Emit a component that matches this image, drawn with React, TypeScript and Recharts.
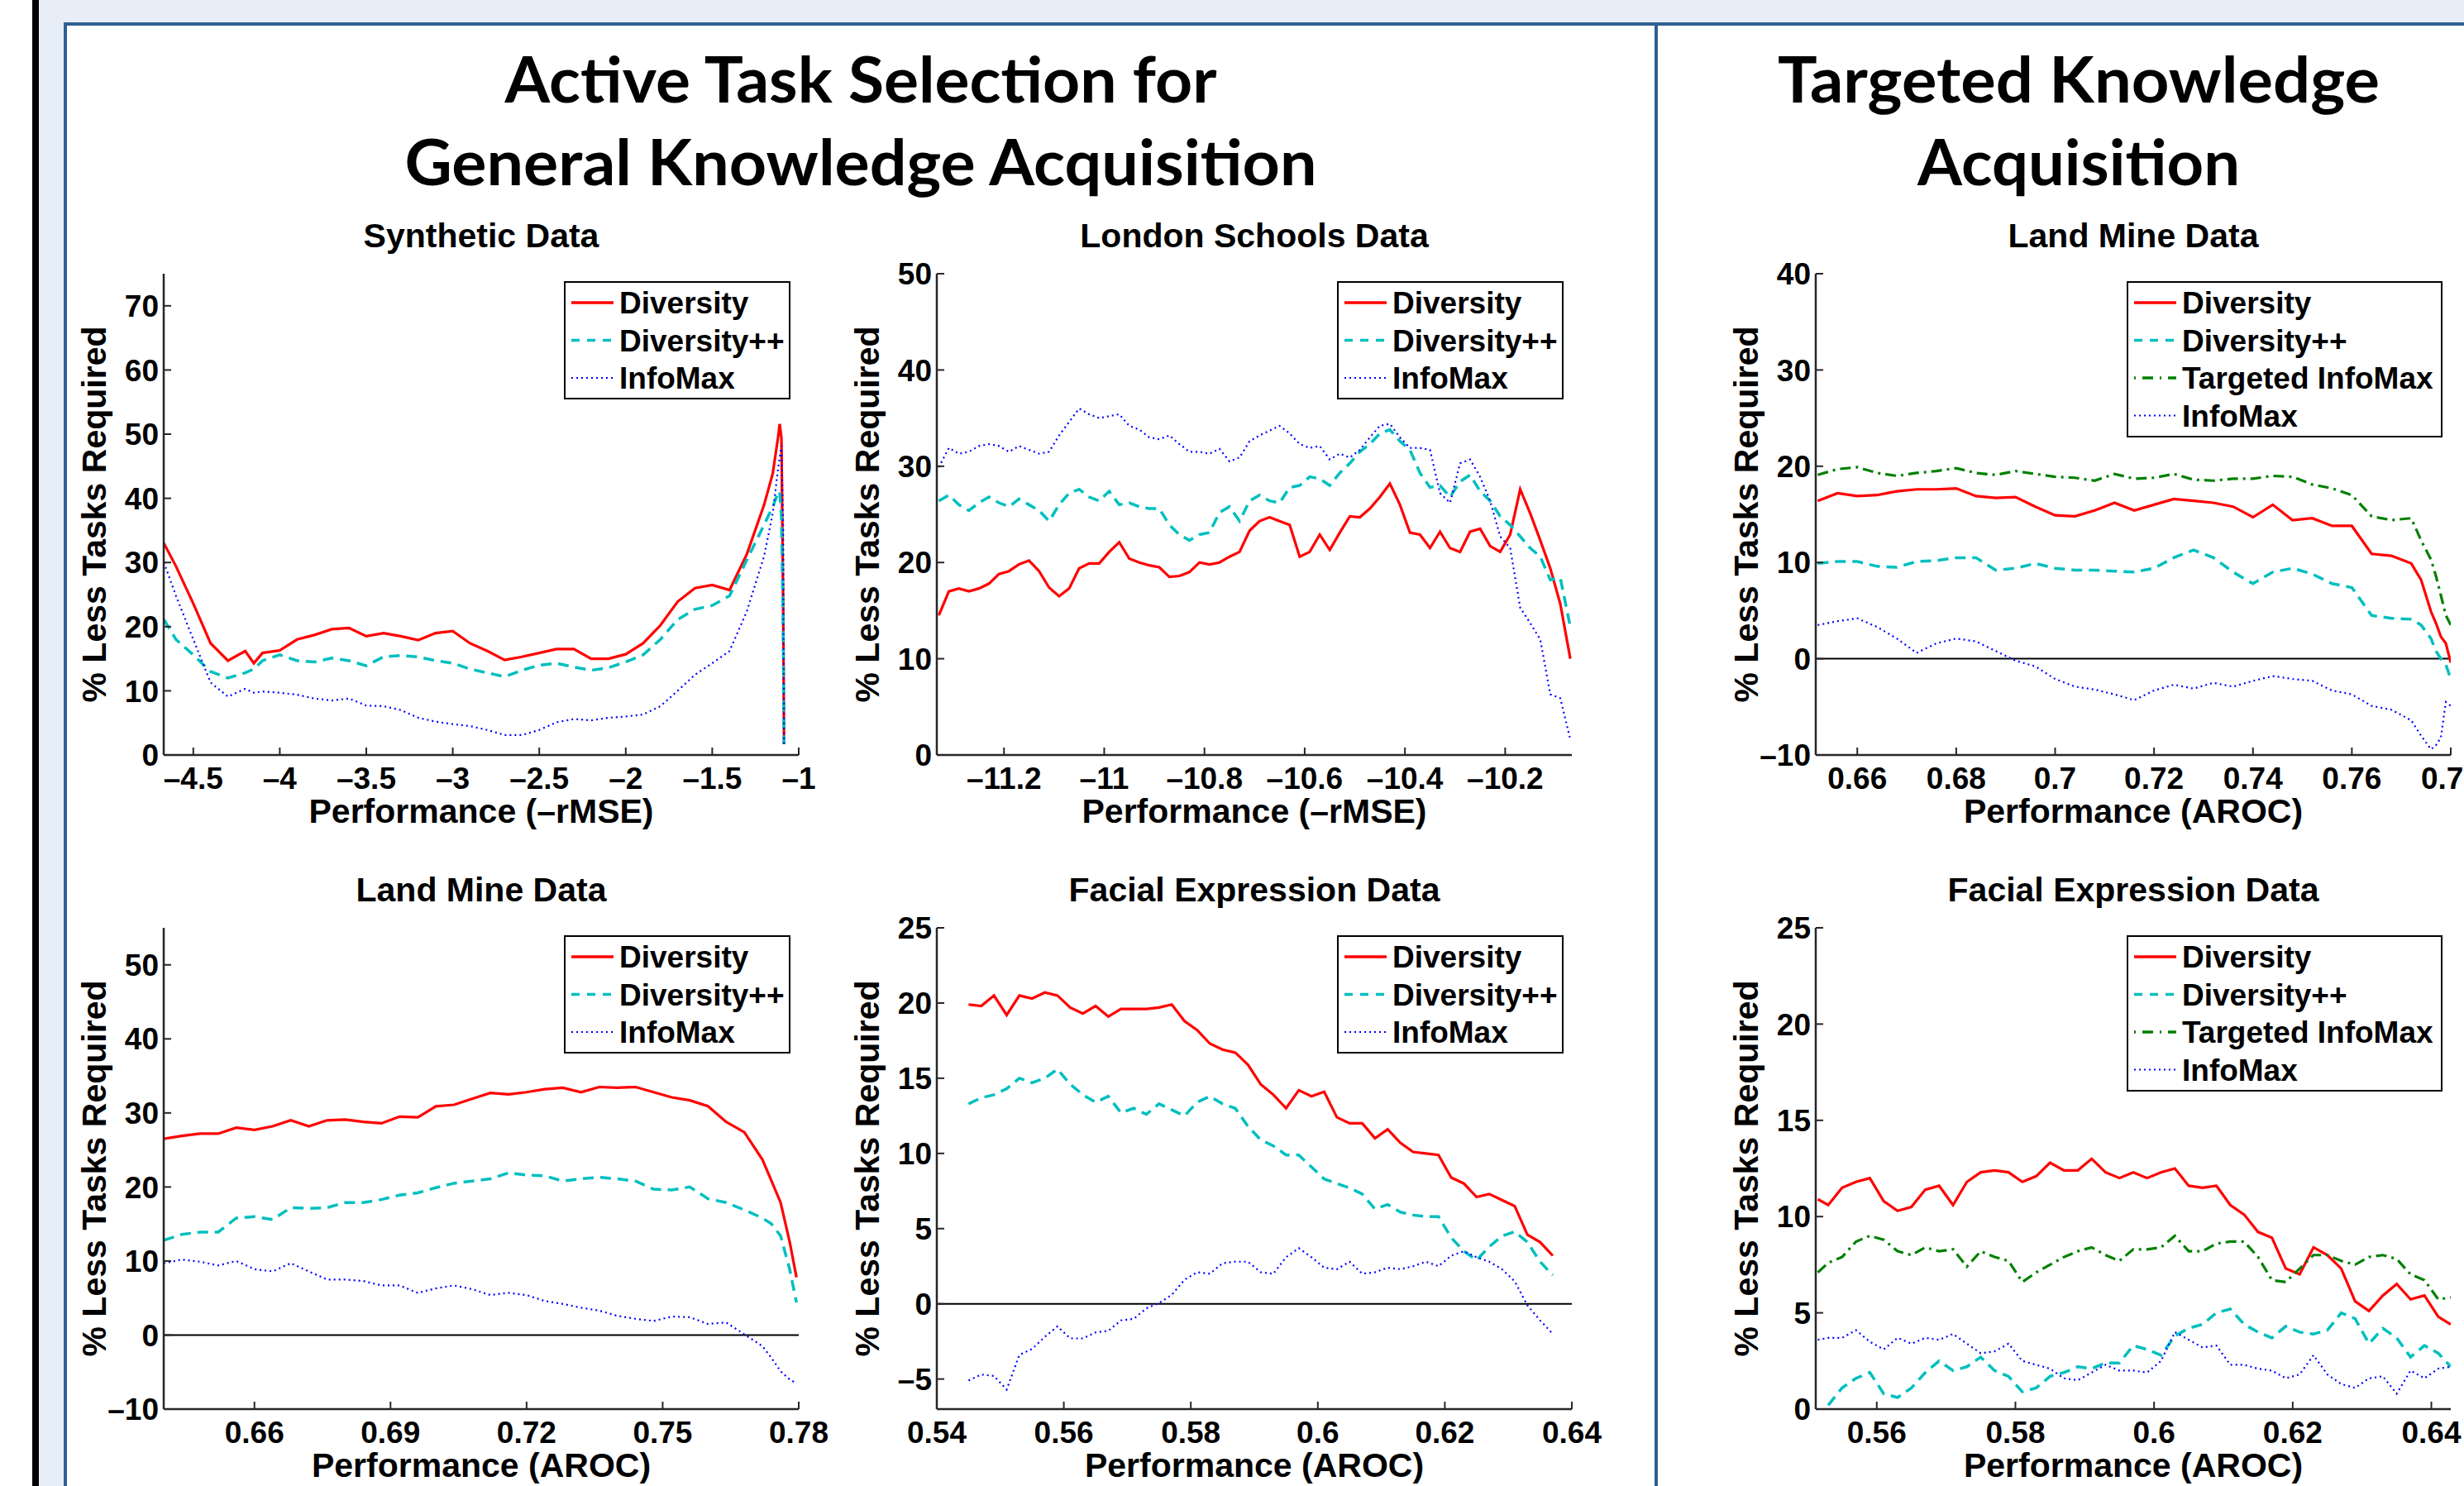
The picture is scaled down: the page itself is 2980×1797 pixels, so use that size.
import React from 'react';
import { LineChart, Line, XAxis, YAxis, ReferenceLine, Legend } from 'recharts';

// ---------------- DATA ----------------
// Synthetic Data (general)
const synX = [-4.67, -4.6, -4.5, -4.4, -4.3, -4.2, -4.15, -4.1, -4.0, -3.9, -3.8, -3.7, -3.6, -3.5, -3.4, -3.3, -3.2, -3.1, -3.0, -2.9, -2.8, -2.7, -2.6, -2.5, -2.4, -2.3, -2.2, -2.1, -2.0, -1.9, -1.8, -1.7, -1.6, -1.5, -1.4, -1.3, -1.2, -1.15, -1.12, -1.11, -1.10, -1.09, -1.085];
const synDiversity = [33.0, 29.4, 23.6, 17.4, 14.7, 16.2, 14.3, 15.9, 16.3, 18.0, 18.7, 19.6, 19.8, 18.5, 19.0, 18.5, 17.9, 19.0, 19.3, 17.4, 16.2, 14.8, 15.3, 15.9, 16.5, 16.5, 15.0, 15.0, 15.7, 17.4, 20.2, 23.9, 26.0, 26.5, 25.7, 31.3, 39.0, 43.9, 49.4, 51.6, 49.4, 23.6, 1.7];
const synDiversityPP = [21.1, 18.0, 15.6, 13.0, 12.0, 12.8, 13.4, 14.7, 15.6, 14.7, 14.5, 15.1, 14.7, 13.9, 15.3, 15.5, 15.3, 14.7, 14.3, 13.4, 12.8, 12.2, 13.2, 14.0, 14.3, 13.7, 13.2, 13.6, 14.5, 15.6, 18.0, 21.1, 22.7, 23.3, 24.8, 30.4, 35.9, 38.7, 40.8, 41.1, 37.1, 20.5, 1.7];
const synInfoMax = [30.0, 24.8, 18.0, 11.3, 9.1, 10.3, 9.7, 9.9, 9.7, 9.4, 8.8, 8.5, 8.8, 7.7, 7.6, 7.0, 5.8, 5.2, 4.8, 4.5, 3.9, 3.1, 3.1, 3.9, 5.1, 5.6, 5.4, 5.8, 6.0, 6.3, 7.6, 10.0, 12.5, 14.3, 16.2, 22.4, 31.0, 37.7, 44.5, 46.4, 48.2, 35.9, 1.7];
const synXTicks = [-4.5, -4, -3.5, -3, -2.5, -2, -1.5, -1];
const synYTicks = [0, 10, 20, 30, 40, 50, 60, 70];

// London Schools Data (general)
const lonX = [-11.33, -11.31, -11.29, -11.27, -11.25, -11.23, -11.21, -11.19, -11.17, -11.15, -11.13, -11.11, -11.09, -11.07, -11.05, -11.03, -11.01, -10.99, -10.97, -10.95, -10.93, -10.91, -10.89, -10.87, -10.85, -10.83, -10.81, -10.79, -10.77, -10.75, -10.73, -10.71, -10.69, -10.67, -10.65, -10.63, -10.61, -10.59, -10.57, -10.55, -10.53, -10.51, -10.49, -10.47, -10.45, -10.43, -10.41, -10.39, -10.37, -10.35, -10.33, -10.31, -10.29, -10.27, -10.25, -10.23, -10.21, -10.19, -10.17, -10.15, -10.13, -10.11, -10.09, -10.07];
const lonDiversity = [14.5, 17.0, 17.3, 17.0, 17.3, 17.8, 18.8, 19.1, 19.8, 20.2, 19.1, 17.4, 16.5, 17.3, 19.4, 19.9, 19.9, 21.1, 22.1, 20.4, 20.0, 19.7, 19.5, 18.5, 18.6, 19.0, 20.0, 19.8, 20.0, 20.6, 21.1, 23.3, 24.3, 24.7, 24.3, 23.9, 20.6, 21.1, 22.9, 21.3, 23.1, 24.8, 24.7, 25.6, 26.8, 28.2, 26.0, 23.1, 22.9, 21.5, 23.2, 21.5, 21.1, 23.2, 23.5, 21.7, 21.1, 22.9, 27.6, 25.1, 22.3, 19.4, 15.7, 10.0];
const lonDiversityPP = [26.4, 27.0, 26.0, 25.4, 26.2, 26.8, 26.2, 25.8, 26.6, 26.0, 25.4, 24.3, 26.0, 27.2, 27.6, 26.8, 26.4, 27.4, 26.0, 26.2, 25.8, 25.6, 25.6, 23.9, 22.9, 22.3, 22.9, 23.1, 25.2, 25.8, 24.3, 26.4, 27.0, 26.4, 26.2, 27.8, 28.0, 28.9, 28.7, 28.0, 29.3, 30.3, 31.5, 32.3, 33.4, 33.8, 32.6, 31.7, 29.3, 27.8, 28.0, 26.8, 28.4, 29.1, 27.4, 26.4, 24.8, 23.9, 22.7, 21.5, 20.6, 18.2, 18.4, 13.3];
const lonInfoMax = [29.9, 31.9, 31.3, 31.5, 32.1, 32.3, 32.1, 31.5, 32.1, 31.7, 31.3, 31.5, 33.2, 34.6, 36.0, 35.4, 35.0, 35.2, 35.4, 34.2, 33.8, 33.0, 32.8, 33.2, 32.3, 31.5, 31.5, 31.3, 31.8, 30.5, 30.9, 32.6, 33.2, 33.7, 34.2, 33.4, 32.3, 31.9, 32.1, 30.7, 31.3, 30.9, 31.7, 33.0, 34.2, 34.4, 33.0, 31.9, 31.9, 31.7, 27.2, 26.2, 30.3, 30.7, 28.9, 26.4, 22.7, 21.5, 15.3, 13.7, 12.0, 6.3, 5.9, 1.6];
const lonXTicks = [-11.2, -11, -10.8, -10.6, -10.4, -10.2];
const lonYTicks = [0, 10, 20, 30, 40, 50];

// Land Mine Data (targeted)
const tlmX = [0.652, 0.656, 0.660, 0.664, 0.668, 0.672, 0.676, 0.680, 0.684, 0.688, 0.692, 0.696, 0.700, 0.704, 0.708, 0.712, 0.716, 0.720, 0.724, 0.728, 0.732, 0.736, 0.740, 0.744, 0.748, 0.752, 0.756, 0.760, 0.764, 0.768, 0.772, 0.774, 0.776, 0.777, 0.778, 0.779, 0.780];
const tlmDiversity = [16.4, 17.2, 16.9, 17.0, 17.4, 17.6, 17.6, 17.7, 16.9, 16.7, 16.8, 15.8, 14.9, 14.8, 15.4, 16.2, 15.4, 16.0, 16.6, 16.4, 16.2, 15.8, 14.7, 16.0, 14.4, 14.6, 13.8, 13.8, 10.9, 10.7, 9.9, 8.2, 4.9, 3.7, 2.3, 1.6, -0.4];
const tlmDiversityPP = [9.9, 10.1, 10.1, 9.6, 9.5, 10.1, 10.2, 10.5, 10.5, 9.2, 9.4, 9.9, 9.4, 9.2, 9.2, 9.1, 9.0, 9.4, 10.5, 11.3, 10.5, 9.0, 7.8, 9.0, 9.4, 8.8, 7.8, 7.4, 4.5, 4.2, 4.1, 3.5, 2.1, 0.8, 0.0, -0.6, -2.1];
const tlmTargeted = [19.1, 19.7, 19.9, 19.3, 19.0, 19.3, 19.5, 19.8, 19.3, 19.1, 19.5, 19.2, 18.9, 18.8, 18.5, 19.2, 18.7, 18.8, 19.2, 18.6, 18.5, 18.7, 18.7, 19.0, 18.9, 18.1, 17.7, 17.0, 14.8, 14.4, 14.6, 12.3, 10.3, 8.6, 6.6, 4.5, 3.5];
const tlmInfoMax = [3.5, 3.9, 4.2, 3.3, 2.1, 0.6, 1.6, 2.1, 1.8, 0.8, -0.2, -0.8, -2.1, -2.9, -3.2, -3.7, -4.3, -3.3, -2.7, -3.1, -2.5, -2.9, -2.3, -1.8, -2.1, -2.3, -3.3, -3.7, -4.9, -5.3, -6.4, -8.0, -9.4, -9.0, -8.2, -4.5, -4.9];
const tlmXTicks = [0.66, 0.68, 0.7, 0.72, 0.74, 0.76, 0.78];
const tlmYTicks = [-10, 0, 10, 20, 30, 40];

// Land Mine Data (general)
const glmX = [0.640, 0.644, 0.648, 0.652, 0.656, 0.660, 0.664, 0.668, 0.672, 0.676, 0.680, 0.684, 0.688, 0.692, 0.696, 0.700, 0.704, 0.708, 0.712, 0.716, 0.720, 0.724, 0.728, 0.732, 0.736, 0.740, 0.744, 0.748, 0.752, 0.756, 0.760, 0.764, 0.768, 0.772, 0.774, 0.776, 0.778, 0.7795];
const glmDiversity = [26.5, 26.9, 27.2, 27.2, 28.0, 27.7, 28.2, 29.0, 28.2, 29.0, 29.1, 28.8, 28.6, 29.5, 29.4, 30.9, 31.1, 31.9, 32.7, 32.5, 32.8, 33.2, 33.4, 32.8, 33.5, 33.4, 33.5, 32.8, 32.1, 31.7, 30.9, 28.8, 27.4, 23.7, 20.8, 17.9, 12.6, 7.8];
const glmDiversityPP = [12.8, 13.6, 13.9, 13.9, 15.8, 16.0, 15.6, 17.2, 17.1, 17.2, 17.9, 17.9, 18.3, 18.9, 19.2, 19.9, 20.5, 20.8, 21.1, 21.9, 21.6, 21.5, 20.8, 21.1, 21.3, 21.1, 20.8, 19.7, 19.6, 20.0, 18.4, 17.9, 16.9, 15.8, 15.0, 13.4, 8.9, 4.4];
const glmInfoMax = [9.7, 10.2, 9.9, 9.4, 10.0, 8.9, 8.6, 9.7, 8.6, 7.5, 7.5, 7.3, 6.7, 6.7, 5.7, 6.3, 6.7, 6.2, 5.4, 5.7, 5.4, 4.6, 4.2, 3.7, 3.3, 2.6, 2.2, 1.9, 2.5, 2.4, 1.5, 1.7, 0.1, -1.5, -3.1, -4.9, -6.0, -6.5];
const glmXTicks = [0.66, 0.69, 0.72, 0.75, 0.78];
const glmYTicks = [-10, 0, 10, 20, 30, 40, 50];

// Facial Expression Data (general)
const gfeX = [0.545, 0.547, 0.549, 0.551, 0.553, 0.555, 0.557, 0.559, 0.561, 0.563, 0.565, 0.567, 0.569, 0.571, 0.573, 0.575, 0.577, 0.579, 0.581, 0.583, 0.585, 0.587, 0.589, 0.591, 0.593, 0.595, 0.597, 0.599, 0.601, 0.603, 0.605, 0.607, 0.609, 0.611, 0.613, 0.615, 0.617, 0.619, 0.621, 0.623, 0.625, 0.627, 0.629, 0.631, 0.633, 0.635, 0.637];
const gfeDiversity = [19.9, 19.8, 20.5, 19.2, 20.5, 20.3, 20.7, 20.5, 19.7, 19.3, 19.8, 19.1, 19.6, 19.6, 19.6, 19.7, 19.9, 18.8, 18.2, 17.3, 16.9, 16.7, 15.9, 14.6, 13.9, 13.0, 14.2, 13.8, 14.1, 12.4, 12.0, 12.0, 11.0, 11.6, 10.7, 10.1, 10.0, 9.9, 8.4, 8.0, 7.1, 7.3, 6.9, 6.5, 4.6, 4.1, 3.2];
const gfeDiversityPP = [13.3, 13.7, 13.9, 14.3, 15.0, 14.7, 15.0, 15.6, 14.6, 13.9, 13.4, 13.8, 12.7, 13.0, 12.6, 13.3, 12.9, 12.5, 13.4, 13.8, 13.3, 13.0, 11.8, 10.9, 10.5, 9.9, 9.9, 9.1, 8.3, 8.0, 7.7, 7.3, 6.3, 6.6, 6.1, 5.9, 5.8, 5.8, 4.4, 3.5, 2.9, 3.8, 4.5, 4.8, 4.1, 2.8, 1.9];
const gfeInfoMax = [-5.1, -4.7, -4.8, -5.7, -3.4, -3.0, -2.2, -1.5, -2.3, -2.3, -1.9, -1.8, -1.1, -1.0, -0.3, 0.05, 0.6, 1.6, 2.1, 2.0, 2.7, 2.8, 2.8, 2.1, 2.0, 3.1, 3.7, 3.1, 2.4, 2.3, 2.8, 2.0, 2.1, 2.4, 2.3, 2.5, 2.8, 2.5, 3.2, 3.5, 3.1, 2.8, 2.3, 1.5, -0.1, -1.1, -2.0];
const gfeXTicks = [0.54, 0.56, 0.58, 0.6, 0.62, 0.64];
const gfeYTicks = [-5, 0, 5, 10, 15, 20, 25];

// Facial Expression Data (targeted)
const tfeX = [0.5515, 0.553, 0.555, 0.557, 0.559, 0.561, 0.563, 0.565, 0.567, 0.569, 0.571, 0.573, 0.575, 0.577, 0.579, 0.581, 0.583, 0.585, 0.587, 0.589, 0.591, 0.593, 0.595, 0.597, 0.599, 0.601, 0.603, 0.605, 0.607, 0.609, 0.611, 0.613, 0.615, 0.617, 0.619, 0.621, 0.623, 0.625, 0.627, 0.629, 0.631, 0.633, 0.635, 0.637, 0.639, 0.641, 0.6428];
const tfeDiversity = [10.9, 10.6, 11.5, 11.8, 12.0, 10.8, 10.3, 10.5, 11.4, 11.6, 10.6, 11.8, 12.3, 12.4, 12.3, 11.8, 12.1, 12.8, 12.4, 12.4, 13.0, 12.3, 12.0, 12.3, 12.0, 12.3, 12.5, 11.6, 11.5, 11.6, 10.6, 10.1, 9.2, 8.9, 7.3, 7.0, 8.4, 8.0, 7.3, 5.6, 5.1, 5.9, 6.5, 5.7, 5.9, 4.8, 4.4];
const tfeDiversityPP = [null, 0.2, 1.1, 1.6, 1.9, 0.8, 0.6, 1.1, 1.9, 2.5, 2.0, 2.2, 2.7, 2.0, 1.7, 0.9, 1.1, 1.7, 1.9, 2.2, 2.1, 2.4, 2.4, 3.3, 3.1, 2.8, 3.8, 4.2, 4.4, 5.0, 5.2, 4.4, 4.0, 3.7, 4.3, 4.0, 3.9, 4.1, 5.0, 4.7, 3.4, 4.2, 3.7, 2.7, 3.3, 2.9, 2.2];
const tfeTargeted = [7.1, 7.6, 7.9, 8.7, 9.0, 8.8, 8.2, 8.0, 8.4, 8.2, 8.3, 7.4, 8.2, 7.9, 7.7, 6.6, 7.1, 7.5, 7.9, 8.2, 8.4, 8.0, 7.7, 8.3, 8.3, 8.4, 9.0, 8.2, 8.2, 8.6, 8.7, 8.7, 7.9, 6.7, 6.6, 7.3, 8.0, 8.0, 7.7, 7.5, 7.9, 8.0, 7.8, 7.0, 6.7, 5.7, 5.8];
const tfeInfoMax = [3.6, 3.7, 3.7, 4.1, 3.5, 3.1, 3.7, 3.4, 3.7, 3.6, 3.9, 3.4, 2.9, 3.0, 3.4, 2.5, 2.3, 2.1, 1.6, 1.5, 1.9, 2.3, 2.0, 2.0, 1.9, 2.5, 4.0, 3.6, 3.2, 3.3, 2.3, 2.3, 2.1, 2.0, 1.6, 1.8, 2.8, 1.8, 1.3, 1.1, 1.6, 1.7, 0.8, 2.0, 1.6, 2.1, 2.2];
const tfeXTicks = [0.56, 0.58, 0.6, 0.62, 0.64];
const tfeYTicks = [0, 5, 10, 15, 20, 25];

// ---------------- STYLE ----------------
const FONT = '"Liberation Sans", Arial, Helvetica, sans-serif';
const TITLE_FONT = 'Lato, "Open Sans", sans-serif';
type Key = 'div' | 'dpp' | 'tim' | 'info';
const STYLES: Record<Key, { name: string; color: string; width: number; dash?: string; lWidth: number; lDash?: string }> = {
  div: { name: 'Diversity', color: '#FF0000', width: 3.2, lWidth: 3.5 },
  dpp: { name: 'Diversity++', color: '#00BFBF', width: 3.5, dash: '13 8', lWidth: 3.5, lDash: '10 9' },
  tim: { name: 'Targeted InfoMax', color: '#008000', width: 3.2, dash: '13 6 3 6', lWidth: 3.5, lDash: '2 8 13 8' },
  info: { name: 'InfoMax', color: '#0000FF', width: 2.2, dash: '2 4', lWidth: 2, lDash: '2 4' },
};

function zipRows(x: number[], cols: Partial<Record<Key, (number | null)[]>>) {
  return x.map((xv, i) => {
    const r: Record<string, number | null> = { x: xv };
    (Object.keys(cols) as Key[]).forEach((k) => {
      r[k] = (cols[k] as (number | null)[])[i];
    });
    return r;
  });
}

type Panel = {
  id: string; title: string; xLabel: string; boxLeft: number; boxTop: number;
  xDomain: [number, number]; xTicks: number[]; yDomain: [number, number]; yTicks: number[];
  zero: boolean; keys: Key[]; rows: Record<string, number | null>[];
};

const PANELS: Panel[] = [
  { id: 'syn', title: 'Synthetic Data', xLabel: 'Performance (\u2013rMSE)', boxLeft: 198, boxTop: 331, xDomain: [-4.671, -1], xTicks: synXTicks, yDomain: [0, 75], yTicks: synYTicks, zero: false, keys: ['div', 'dpp', 'info'], rows: zipRows(synX, { div: synDiversity, dpp: synDiversityPP, info: synInfoMax }) },
  { id: 'lon', title: 'London Schools Data', xLabel: 'Performance (\u2013rMSE)', boxLeft: 1133, boxTop: 331, xDomain: [-11.334, -10.067], xTicks: lonXTicks, yDomain: [0, 50], yTicks: lonYTicks, zero: false, keys: ['div', 'dpp', 'info'], rows: zipRows(lonX, { div: lonDiversity, dpp: lonDiversityPP, info: lonInfoMax }) },
  { id: 'tlm', title: 'Land Mine Data', xLabel: 'Performance (AROC)', boxLeft: 2196, boxTop: 331, xDomain: [0.6516, 0.78], xTicks: tlmXTicks, yDomain: [-10, 40], yTicks: tlmYTicks, zero: true, keys: ['div', 'dpp', 'tim', 'info'], rows: zipRows(tlmX, { div: tlmDiversity, dpp: tlmDiversityPP, tim: tlmTargeted, info: tlmInfoMax }) },
  { id: 'glm', title: 'Land Mine Data', xLabel: 'Performance (AROC)', boxLeft: 198, boxTop: 1122, xDomain: [0.64, 0.78], xTicks: glmXTicks, yDomain: [-10, 55], yTicks: glmYTicks, zero: true, keys: ['div', 'dpp', 'info'], rows: zipRows(glmX, { div: glmDiversity, dpp: glmDiversityPP, info: glmInfoMax }) },
  { id: 'gfe', title: 'Facial Expression Data', xLabel: 'Performance (AROC)', boxLeft: 1133, boxTop: 1122, xDomain: [0.54, 0.64], xTicks: gfeXTicks, yDomain: [-7, 25], yTicks: gfeYTicks, zero: true, keys: ['div', 'dpp', 'info'], rows: zipRows(gfeX, { div: gfeDiversity, dpp: gfeDiversityPP, info: gfeInfoMax }) },
  { id: 'tfe', title: 'Facial Expression Data', xLabel: 'Performance (AROC)', boxLeft: 2196, boxTop: 1122, xDomain: [0.5512, 0.6428], xTicks: tfeXTicks, yDomain: [0, 25], yTicks: tfeYTicks, zero: false, keys: ['div', 'dpp', 'tim', 'info'], rows: zipRows(tfeX, { div: tfeDiversity, dpp: tfeDiversityPP, tim: tfeTargeted, info: tfeInfoMax }) },
];

const BOX_W = 768;
const BOX_H = 582;
const YAW = 110;
const ML = 130;
const MT = 20;
const MR = 50;
const XAH = 70;
const MB = 10;
const AX = '#262626';

const fmt = (v: number) => (v < 0 ? '\u2013' + String(Math.abs(v)) : String(v));

function LegendBox({ keys }: { keys: Key[] }) {
  const w = keys.length === 4 ? 382 : 274;
  const h = keys.length === 4 ? 189 : 143;
  return (
    <svg width={w} height={h} style={{ display: 'block' }}>
      <rect x={1} y={1} width={w - 2} height={h - 2} fill="#fff" stroke="#000" strokeWidth={2} />
      {keys.map((k, i) => {
        const s = STYLES[k];
        const cy = 26 + 45.5 * i;
        return (
          <g key={k}>
            <line x1={9} x2={60} y1={cy} y2={cy} stroke={s.color} strokeWidth={s.lWidth} strokeDasharray={s.lDash} />
            <text x={67} y={cy} dy="0.36em" fontFamily={FONT} fontWeight={700} fontSize={37} fill="#000">{s.name}</text>
          </g>
        );
      })}
    </svg>
  );
}

function Plot({ p }: { p: Panel }) {
  const W = ML + BOX_W + MR;
  const H = MT + BOX_H + XAH + MB;
  const lw = p.keys.length === 4 ? 382 : 274;
  const lh = p.keys.length === 4 ? 189 : 143;
  const tickStyle = { fill: '#000', fontSize: 37, fontWeight: 700, fontFamily: FONT };
  return (
    <div style={{ position: 'absolute', left: p.boxLeft - ML, top: p.boxTop - MT, width: W, height: H }}>
      <LineChart width={W} height={H} data={p.rows} margin={{ top: MT, right: MR, bottom: MB, left: ML - YAW }}>
        <XAxis xAxisId="b" dataKey="x" type="number" domain={p.xDomain} ticks={p.xTicks} allowDataOverflow interval={0}
          orientation="bottom" height={XAH} tickSize={-9} tickMargin={24} tick={tickStyle} tickFormatter={fmt}
          axisLine={{ stroke: AX, strokeWidth: 2.5 }} tickLine={{ stroke: AX, strokeWidth: 2 }} />
        <XAxis xAxisId="t" dataKey="x" type="number" domain={p.xDomain} ticks={p.xTicks} allowDataOverflow interval={0}
          orientation="top" height={0} tickSize={-9} tick={false}
          axisLine={{ stroke: AX, strokeWidth: 2.5 }} tickLine={{ stroke: AX, strokeWidth: 2 }} />
        <YAxis yAxisId="l" type="number" domain={p.yDomain} ticks={p.yTicks} allowDataOverflow interval={0}
          orientation="left" width={YAW} tickSize={-9} tickMargin={15} tick={tickStyle} tickFormatter={fmt}
          axisLine={{ stroke: AX, strokeWidth: 2.5 }} tickLine={{ stroke: AX, strokeWidth: 2 }} />
        <YAxis yAxisId="r" type="number" domain={p.yDomain} ticks={p.yTicks} allowDataOverflow interval={0}
          orientation="right" width={0} tickSize={-9} tick={false}
          axisLine={{ stroke: AX, strokeWidth: 2.5 }} tickLine={{ stroke: AX, strokeWidth: 2 }} />
        {p.zero && <ReferenceLine xAxisId="b" yAxisId="l" y={0} stroke="#000" strokeWidth={2} />}
        {p.keys.map((k) => (
          <Line key={k} xAxisId="b" yAxisId="l" type="linear" dataKey={k} name={STYLES[k].name}
            stroke={STYLES[k].color} strokeWidth={STYLES[k].width} strokeDasharray={STYLES[k].dash}
            dot={false} activeDot={false} connectNulls={false} isAnimationActive={false} />
        ))}
        <Legend layout="vertical" align="center" verticalAlign="middle"
          wrapperStyle={{ left: ML + BOX_W - 10 - lw, top: MT + 9, width: lw, height: lh }}
          content={() => <LegendBox keys={p.keys} />} />
      </LineChart>
    </div>
  );
}

export default function App() {
  const bg = '#E8EEF7';
  const border = '#2F5F93';
  return (
    <div style={{ position: 'absolute', left: 0, top: 0, width: 2980, height: 1797, overflow: 'hidden', background: '#fff' }}>
      <div style={{ position: 'absolute', left: 47, top: 0, width: 2933, height: 27, background: bg }} />
      <div style={{ position: 'absolute', left: 47, top: 0, width: 30, height: 1797, background: bg }} />
      <div style={{ position: 'absolute', left: 39, top: 0, width: 8, height: 1797, background: '#000' }} />
      <div style={{ position: 'absolute', left: 77, top: 27, width: 2903, height: 4, background: border }} />
      <div style={{ position: 'absolute', left: 77, top: 27, width: 4, height: 1770, background: border }} />
      <div style={{ position: 'absolute', left: 2001, top: 27, width: 4, height: 1770, background: border }} />
      {PANELS.map((p) => (
        <Plot key={p.id} p={p} />
      ))}
      <svg width={2980} height={1797} style={{ position: 'absolute', left: 0, top: 0, pointerEvents: 'none' }}>
        <g fontFamily={TITLE_FONT} fontWeight={700} fontSize={76} fill="#000" textAnchor="middle">
          <text x={1041} y={124} textLength={861} lengthAdjust="spacingAndGlyphs">Active Task Selection for</text>
          <text x={1041} y={224} textLength={1103} lengthAdjust="spacingAndGlyphs">General Knowledge Acquisition</text>
          <text x={2514} y={124} textLength={728} lengthAdjust="spacingAndGlyphs">Targeted Knowledge</text>
          <text x={2514} y={224} textLength={390} lengthAdjust="spacingAndGlyphs">Acquisition</text>
        </g>
        <g fontFamily={FONT} fontWeight={700} fill="#000" textAnchor="middle">
          {PANELS.map((p) => (
            <g key={p.id}>
              <text x={p.boxLeft + BOX_W / 2} y={p.boxTop - 32} fontSize={41}>{p.title}</text>
              <text x={p.boxLeft + BOX_W / 2} y={p.boxTop + BOX_H + 82} fontSize={41}>{p.xLabel}</text>
              <text transform={`translate(${p.boxLeft - 70}, ${p.boxTop + BOX_H / 2}) rotate(-90)`} fontSize={41}>% Less Tasks Required</text>
            </g>
          ))}
        </g>
      </svg>
    </div>
  );
}
